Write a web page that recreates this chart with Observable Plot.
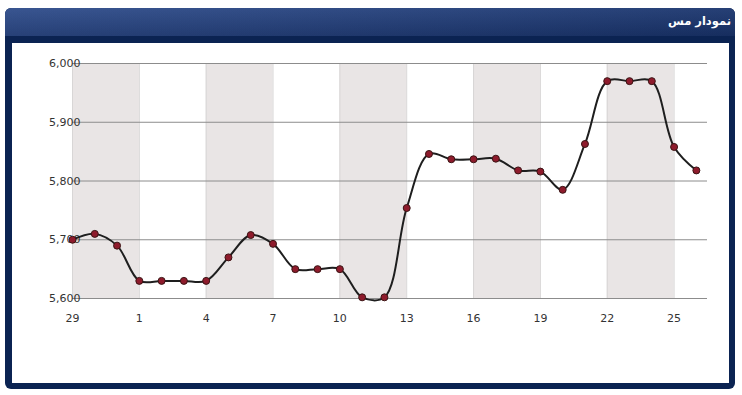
<!DOCTYPE html>
<html>
<head>
<meta charset="utf-8">
<script src="https://cdn.jsdelivr.net/npm/d3@7"></script>
<script src="https://cdn.jsdelivr.net/npm/@observablehq/plot@0.6"></script>
<style>
  html, body { margin: 0; padding: 0; background: #ffffff; width: 742px; height: 395px; overflow: hidden; }
  #frame { position: absolute; left: 5px; top: 8px; width: 730px; height: 381px; background: #0b2352; border-radius: 6px; }
  #header { position: absolute; left: 0; top: 0; width: 730px; height: 28px; border-radius: 6px 6px 0 0;
    background: linear-gradient(to right, rgba(255,255,255,0.06), rgba(0,0,0,0.15)), linear-gradient(to bottom, #2d4b8a, #1a356f); }
  #title { position: absolute; right: 4px; top: 6px; color: #ffffff; font: bold 11.5px "DejaVu Sans", sans-serif; direction: rtl; }
  #panel { position: absolute; left: 7px; top: 35px; width: 717px; height: 340px; background: #ffffff; }
  #chart { position: absolute; left: 0; top: 0; }
</style>
</head>
<body>
<div id="frame">
  <div id="header"><div id="title">نمودار مس</div></div>
  <div id="panel"><div id="chart"></div></div>
</div>
<script>
const days = [29, 30, 31, 1, 2, 3, 4, 5, 6, 7, 8, 9, 10, 11, 12, 13, 14, 15, 16, 17, 18, 19, 20, 21, 22, 23, 24, 25, 26];
const prices = [5700, 5710, 5690, 5630, 5630, 5630, 5630, 5670, 5708, 5693, 5650, 5650, 5650, 5602, 5602, 5754, 5846, 5837, 5837, 5838, 5818, 5816, 5785, 5863, 5970, 5970, 5970, 5858, 5818];
const xTickLabels = [29, 1, 4, 7, 10, 13, 16, 19, 22, 25];
const yTicks = [5600, 5700, 5800, 5900, 6000];

const data = days.map((d, i) => ({i, day: d, price: prices[i]}));
const tickIdx = xTickLabels.map(l => days.indexOf(l));
const bands = tickIdx.filter((t, k) => k % 2 === 0).map(t => ({x1: t, x2: t + 3}));

const chart = Plot.plot({
  width: 717,
  height: 340,
  marginLeft: 60,
  marginRight: 22,
  marginTop: 20,
  marginBottom: 85,
  style: {fontFamily: "DejaVu Sans, sans-serif", fontSize: "11px", color: "#333333", background: "transparent"},
  x: {type: "linear", domain: [0, 28.5], label: null},
  y: {domain: [5600, 6000], label: null},
  marks: [
    Plot.rect(bands, {x1: "x1", x2: "x2", y1: 5600, y2: 6000, fill: "#e9e5e5"}),
    Plot.ruleX(tickIdx, {y1: 5600, y2: 6000, stroke: "#d8d6d6", strokeWidth: 1}),
    Plot.ruleY(yTicks, {x1: 0, x2: 28.5, stroke: "#8c8c8c", strokeWidth: 1}),
    Plot.axisX({ticks: tickIdx, tickFormat: i => days[i], tickSize: 0, tickPadding: 16, fill: "#333333", label: null}),
    Plot.axisY({ticks: yTicks, tickFormat: d3.format(","), tickSize: 0, tickPadding: 0, dx: 8, fill: "#333333", label: null}),
    Plot.line(data, {x: "i", y: "price", curve: "catmull-rom", stroke: "#1e1e1e", strokeWidth: 2}),
    Plot.dot(data, {x: "i", y: "price", r: 3.5, fill: "#8e1b2c", stroke: "#3a1414", strokeWidth: 1})
  ]
});
document.getElementById("chart").appendChild(chart);
</script>
</body>
</html>
